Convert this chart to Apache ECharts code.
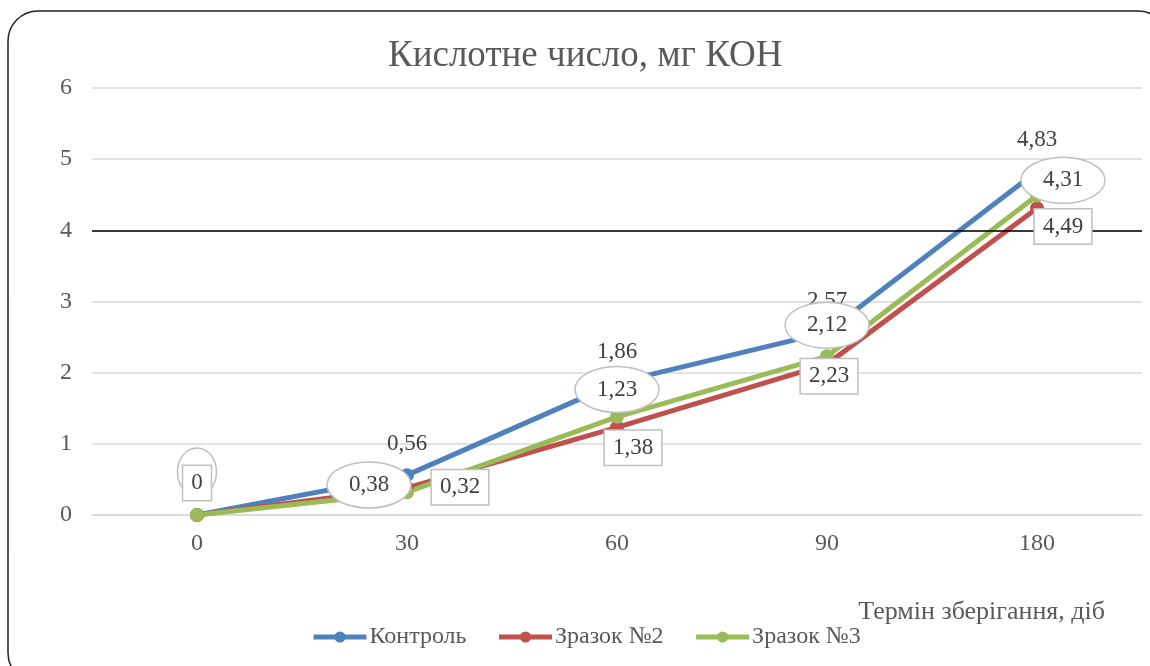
<!DOCTYPE html>
<html>
<head>
<meta charset="utf-8">
<script src="https://cdn.jsdelivr.net/npm/echarts@6/dist/echarts.min.js"></script>
<style>
  html, body { margin: 0; padding: 0; background: #fff; }
  #chart { width: 1150px; height: 666px; }
</style>
</head>
<body>
<div id="chart"></div>
<script>
const days = ['0', '30', '60', '90', '180'];
const control = [0, 0.56, 1.86, 2.57, 4.83];
const sample2 = [0, 0.38, 1.23, 2.12, 4.31];
const sample3 = [0, 0.32, 1.38, 2.23, 4.49];
const limitValue = 4;

// where each callout sits relative to its point (px)
const sample2Offsets = [[0, -43], [-38, -3], [0, -38], [0, -39], [26, -28]];
const sample3Offsets = [[0, -32], [53, -5], [16, 31], [2, 20], [26, 31]];

const FONT = '"Liberation Serif", "DejaVu Serif", serif';
const comma = v => String(v).replace('.', ',');

const chart = echarts.init(document.getElementById('chart'));

const lineBase = {
  type: 'line',
  symbol: 'circle',
  symbolSize: 14,
  lineStyle: { width: 5 },
  z: 2
};

chart.setOption({
  backgroundColor: '#fff',
  animation: false,
  textStyle: { fontFamily: FONT },
  graphic: [{
    type: 'rect',
    shape: { x: 8, y: 11, width: 1160, height: 672, r: 30 },
    style: { fill: 'none', stroke: '#222', lineWidth: 1.5 },
    silent: true
  }],
  title: [{
    text: 'Кислотне число, мг КОН',
    left: 383,
    top: 33,
    textStyle: { fontFamily: FONT, fontSize: 37, fontWeight: 'normal', color: '#595959' }
  }, {
    text: 'Термін зберігання, діб',
    right: 40,
    top: 594,
    textStyle: { fontFamily: FONT, fontSize: 26, fontWeight: 'normal', color: '#595959' }
  }],
  legend: {
    data: ['Контроль', 'Зразок №2', 'Зразок №3'],
    left: 306,
    top: 620,
    itemWidth: 53,
    itemHeight: 14,
    itemGap: 30,
    lineStyle: { width: 5 },
    textStyle: { fontFamily: FONT, fontSize: 24, color: '#595959', padding: [0, 0, 0, -2] }
  },
  grid: { left: 92, right: 8, top: 88, bottom: 151 },
  xAxis: {
    type: 'category',
    data: days,
    boundaryGap: true,
    axisLine: { lineStyle: { color: '#D9D9D9', width: 1.5 } },
    axisTick: { show: false },
    axisLabel: { fontFamily: FONT, fontSize: 24, color: '#595959', margin: 17 }
  },
  yAxis: {
    type: 'value',
    min: 0,
    max: 6,
    interval: 1,
    axisLine: { show: false },
    axisTick: { show: false },
    splitLine: { lineStyle: { color: '#D9D9D9', width: 1.5 } },
    axisLabel: { fontFamily: FONT, fontSize: 24, color: '#595959', margin: 20 }
  },
  series: [
    Object.assign({}, lineBase, {
      name: 'Контроль',
      data: control,
      itemStyle: { color: '#4F81BD' },
      label: {
        show: true,
        position: 'inside',
        offset: [0, -31],
        fontFamily: FONT,
        fontSize: 23,
        color: '#404040',
        formatter: p => comma(p.value)
      }
    }),
    Object.assign({}, lineBase, {
      name: 'Зразок №2',
      data: sample2,
      itemStyle: { color: '#C0504D' }
    }),
    Object.assign({}, lineBase, {
      name: 'Зразок №3',
      data: sample3,
      itemStyle: { color: '#9BBB59' }
    }),
    {
      // oval callouts for Зразок №2
      name: 'callouts2',
      type: 'custom',
      z: 5,
      silent: true,
      data: sample2.map((v, i) => [i, v]),
      renderItem: (params, api) => {
        const pt = api.coord([api.value(0), api.value(1)]);
        const off = sample2Offsets[params.dataIndex];
        const txt = comma(api.value(1));
        const cx = pt[0] + off[0];
        const cy = pt[1] + off[1];
        const rx = 12 + 7.5 * txt.length;
        const ry = txt.length > 1 ? 23 : 24;
        const children = [{
          type: 'ellipse',
          shape: { cx: cx, cy: cy, rx: rx, ry: ry },
          style: { fill: '#fff', stroke: '#BFBFBF', lineWidth: 1.5 }
        }];
        // the zero oval sits behind the zero box, its text is covered in the original
        if (api.value(1) !== 0) {
          children.push({
            type: 'text',
            style: {
              x: cx, y: cy, text: txt,
              align: 'center', verticalAlign: 'middle',
              font: '23px ' + FONT, fill: '#404040'
            }
          });
        }
        return { type: 'group', children: children };
      }
    },
    {
      // boxed callouts for Зразок №3, above the ovals
      name: 'callouts3',
      type: 'scatter',
      z: 7,
      silent: true,
      symbolSize: 0,
      itemStyle: { opacity: 1 },
      data: sample3.map((v, i) => ({
        value: v,
        label: { offset: sample3Offsets[i] }
      })),
      label: {
        show: true,
        position: 'inside',
        fontFamily: FONT,
        fontSize: 23,
        color: '#404040',
        opacity: 1,
        backgroundColor: '#fff',
        borderColor: '#BFBFBF',
        borderWidth: 1.5,
        padding: [6, 8, 5, 8],
        formatter: p => comma(p.value)
      }
    },
    {
      name: 'limit',
      type: 'line',
      data: [],
      z: 8,
      markLine: {
        silent: true,
        symbol: 'none',
        label: { show: false },
        lineStyle: { color: '#000', width: 1.5, type: 'solid' },
        data: [{ yAxis: limitValue }]
      }
    }
  ]
});
</script>
</body>
</html>
